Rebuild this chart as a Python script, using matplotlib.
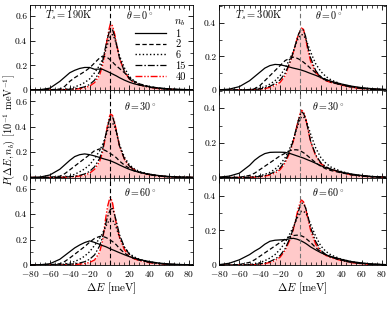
import numpy as np
import matplotlib
matplotlib.use("Agg")
import matplotlib.pyplot as plt
from matplotlib.ticker import MultipleLocator, FuncFormatter

plt.rcParams['font.family'] = 'serif'
plt.rcParams['font.serif'] = ['cmr10']
plt.rcParams['mathtext.fontset'] = 'cm'
plt.rcParams['axes.unicode_minus'] = False
plt.rcParams['axes.formatter.use_mathtext'] = True

# ---- data ----
E = [-80, -70, -60, -50, -45, -40, -35, -30, -25, -20, -15, -10, -7, -4, -2,
     0, 1, 3, 5, 7, 10, 15, 20, 25, 30, 40, 50, 60, 70, 85]
nb_labels = ['1', '2', '6', '15', '40']
temperatures = ['190', '300']
angles = ['0', '30', '60']

# T=190K, theta=0
A_n1 = [0, 0.002, 0.015, 0.07, 0.105, 0.14, 0.16, 0.175, 0.183, 0.183, 0.168, 0.17, 0.168, 0.157, 0.15, 0.142, 0.138, 0.13, 0.122, 0.114, 0.1, 0.08, 0.063, 0.05, 0.04, 0.026, 0.016, 0.009, 0.005, 0.002]
A_n2 = [0, 0, 0.002, 0.008, 0.03, 0.07, 0.1, 0.125, 0.15, 0.18, 0.22, 0.26, 0.275, 0.27, 0.262, 0.25, 0.243, 0.228, 0.21, 0.195, 0.175, 0.14, 0.1, 0.07, 0.05, 0.028, 0.015, 0.008, 0.004, 0.001]
A_n6 = [0, 0, 0, 0.002, 0.005, 0.012, 0.025, 0.04, 0.06, 0.09, 0.14, 0.2, 0.25, 0.32, 0.37, 0.42, 0.44, 0.45, 0.42, 0.37, 0.28, 0.18, 0.11, 0.072, 0.05, 0.027, 0.014, 0.007, 0.003, 0.001]
A_n15 = [0, 0, 0, 0.001, 0.003, 0.006, 0.01, 0.016, 0.026, 0.045, 0.08, 0.15, 0.23, 0.35, 0.42, 0.48, 0.5, 0.49, 0.44, 0.37, 0.26, 0.15, 0.09, 0.06, 0.042, 0.022, 0.011, 0.005, 0.002, 0]
A_n40 = [0, 0, 0, 0.001, 0.002, 0.004, 0.007, 0.011, 0.018, 0.032, 0.06, 0.12, 0.2, 0.33, 0.43, 0.51, 0.54, 0.52, 0.46, 0.38, 0.26, 0.15, 0.09, 0.06, 0.042, 0.022, 0.011, 0.005, 0.002, 0]

# T=300K, theta=0
B_n1 = [0.001, 0.005, 0.02, 0.055, 0.08, 0.105, 0.13, 0.145, 0.152, 0.15, 0.143, 0.135, 0.13, 0.126, 0.123, 0.12, 0.118, 0.114, 0.11, 0.105, 0.098, 0.087, 0.074, 0.062, 0.052, 0.036, 0.023, 0.014, 0.008, 0.003]
B_n2 = [0, 0, 0, 0.003, 0.008, 0.025, 0.055, 0.085, 0.115, 0.145, 0.175, 0.19, 0.195, 0.19, 0.185, 0.178, 0.174, 0.165, 0.155, 0.145, 0.128, 0.102, 0.08, 0.063, 0.05, 0.033, 0.02, 0.011, 0.005, 0.002]
B_n6 = [0, 0, 0, 0.002, 0.005, 0.01, 0.02, 0.035, 0.055, 0.085, 0.13, 0.19, 0.23, 0.28, 0.31, 0.325, 0.33, 0.325, 0.305, 0.275, 0.225, 0.155, 0.11, 0.08, 0.06, 0.035, 0.02, 0.01, 0.005, 0.002]
B_n15 = [0, 0, 0, 0.001, 0.003, 0.006, 0.012, 0.022, 0.038, 0.06, 0.1, 0.17, 0.225, 0.29, 0.33, 0.355, 0.362, 0.355, 0.32, 0.26, 0.19, 0.115, 0.075, 0.057, 0.046, 0.03, 0.017, 0.009, 0.004, 0.001]
B_n40 = [0, 0, 0, 0.001, 0.002, 0.004, 0.008, 0.016, 0.028, 0.045, 0.085, 0.17, 0.225, 0.29, 0.33, 0.355, 0.368, 0.36, 0.31, 0.245, 0.17, 0.105, 0.072, 0.055, 0.045, 0.03, 0.016, 0.008, 0.004, 0.001]

# T=190K, theta=30
C_n1 = [0, 0.003, 0.02, 0.065, 0.1, 0.135, 0.165, 0.18, 0.186, 0.18, 0.17, 0.158, 0.15, 0.143, 0.139, 0.134, 0.131, 0.125, 0.118, 0.111, 0.099, 0.081, 0.064, 0.051, 0.041, 0.026, 0.015, 0.008, 0.004, 0.001]
C_n2 = [0, 0, 0.002, 0.01, 0.03, 0.06, 0.09, 0.12, 0.15, 0.18, 0.212, 0.225, 0.222, 0.212, 0.203, 0.193, 0.188, 0.178, 0.168, 0.155, 0.13, 0.098, 0.072, 0.052, 0.04, 0.023, 0.012, 0.006, 0.003, 0.001]
C_n6 = [0, 0, 0, 0.002, 0.005, 0.012, 0.025, 0.045, 0.068, 0.1, 0.15, 0.21, 0.26, 0.32, 0.37, 0.41, 0.425, 0.43, 0.405, 0.35, 0.26, 0.16, 0.1, 0.068, 0.048, 0.026, 0.013, 0.006, 0.003, 0.001]
C_n15 = [0, 0, 0, 0.001, 0.003, 0.006, 0.01, 0.017, 0.028, 0.048, 0.085, 0.15, 0.22, 0.33, 0.4, 0.46, 0.485, 0.48, 0.43, 0.36, 0.25, 0.145, 0.09, 0.06, 0.042, 0.022, 0.011, 0.005, 0.002, 0]
C_n40 = [0, 0, 0, 0.001, 0.002, 0.004, 0.007, 0.012, 0.02, 0.034, 0.065, 0.125, 0.2, 0.32, 0.41, 0.48, 0.5, 0.49, 0.44, 0.365, 0.25, 0.145, 0.088, 0.06, 0.042, 0.022, 0.011, 0.005, 0.002, 0]

# T=300K, theta=30
D_n1 = [0.002, 0.008, 0.025, 0.07, 0.1, 0.122, 0.138, 0.145, 0.146, 0.146, 0.145, 0.138, 0.132, 0.126, 0.122, 0.118, 0.116, 0.112, 0.107, 0.102, 0.095, 0.082, 0.068, 0.057, 0.047, 0.032, 0.02, 0.012, 0.006, 0.002]
D_n2 = [0, 0, 0.001, 0.012, 0.025, 0.045, 0.065, 0.085, 0.105, 0.125, 0.14, 0.155, 0.16, 0.16, 0.158, 0.153, 0.15, 0.143, 0.135, 0.125, 0.11, 0.085, 0.065, 0.05, 0.04, 0.027, 0.016, 0.009, 0.004, 0.001]
D_n6 = [0, 0, 0, 0.002, 0.005, 0.01, 0.018, 0.03, 0.048, 0.075, 0.115, 0.175, 0.22, 0.275, 0.31, 0.34, 0.35, 0.35, 0.335, 0.305, 0.25, 0.17, 0.115, 0.082, 0.06, 0.035, 0.019, 0.01, 0.005, 0.001]
D_n15 = [0, 0, 0, 0.001, 0.003, 0.006, 0.011, 0.02, 0.034, 0.055, 0.095, 0.16, 0.215, 0.285, 0.33, 0.365, 0.378, 0.37, 0.34, 0.29, 0.21, 0.13, 0.085, 0.062, 0.048, 0.03, 0.016, 0.008, 0.004, 0.001]
D_n40 = [0, 0, 0, 0.001, 0.002, 0.004, 0.008, 0.015, 0.026, 0.045, 0.085, 0.15, 0.21, 0.285, 0.335, 0.372, 0.388, 0.38, 0.345, 0.29, 0.205, 0.125, 0.08, 0.06, 0.046, 0.029, 0.015, 0.008, 0.004, 0.001]

# T=190K, theta=60
E_n1 = [0, 0.002, 0.01, 0.045, 0.075, 0.105, 0.135, 0.158, 0.177, 0.19, 0.178, 0.163, 0.153, 0.145, 0.138, 0.13, 0.127, 0.12, 0.114, 0.107, 0.097, 0.081, 0.066, 0.053, 0.043, 0.027, 0.015, 0.008, 0.004, 0.001]
E_n2 = [0, 0, 0.002, 0.01, 0.028, 0.055, 0.085, 0.115, 0.145, 0.18, 0.21, 0.225, 0.225, 0.218, 0.21, 0.2, 0.195, 0.185, 0.172, 0.158, 0.13, 0.095, 0.068, 0.05, 0.038, 0.022, 0.012, 0.006, 0.003, 0.001]
E_n6 = [0, 0, 0, 0.003, 0.007, 0.015, 0.028, 0.045, 0.07, 0.105, 0.155, 0.21, 0.25, 0.3, 0.33, 0.355, 0.36, 0.355, 0.33, 0.29, 0.22, 0.14, 0.09, 0.063, 0.046, 0.026, 0.013, 0.006, 0.003, 0.001]
E_n15 = [0, 0, 0, 0.001, 0.003, 0.006, 0.01, 0.016, 0.026, 0.045, 0.08, 0.15, 0.22, 0.32, 0.38, 0.42, 0.44, 0.445, 0.4, 0.34, 0.24, 0.14, 0.085, 0.058, 0.042, 0.022, 0.011, 0.005, 0.002, 0]
E_n40 = [0, 0, 0, 0, 0.001, 0.002, 0.004, 0.007, 0.012, 0.02, 0.04, 0.1, 0.19, 0.36, 0.46, 0.52, 0.535, 0.49, 0.4, 0.32, 0.22, 0.12, 0.07, 0.048, 0.035, 0.018, 0.009, 0.004, 0.002, 0]

# T=300K, theta=60
F_n1 = [0.002, 0.01, 0.03, 0.06, 0.08, 0.097, 0.12, 0.137, 0.143, 0.145, 0.146, 0.152, 0.154, 0.15, 0.146, 0.141, 0.138, 0.132, 0.125, 0.117, 0.104, 0.087, 0.071, 0.059, 0.049, 0.033, 0.02, 0.012, 0.006, 0.002]
F_n2 = [0, 0, 0.003, 0.015, 0.03, 0.05, 0.07, 0.09, 0.11, 0.13, 0.15, 0.165, 0.17, 0.172, 0.172, 0.17, 0.168, 0.163, 0.155, 0.145, 0.13, 0.1, 0.075, 0.058, 0.045, 0.028, 0.016, 0.009, 0.004, 0.001]
F_n6 = [0, 0, 0, 0.003, 0.007, 0.014, 0.025, 0.04, 0.06, 0.09, 0.13, 0.185, 0.22, 0.26, 0.285, 0.305, 0.31, 0.31, 0.3, 0.28, 0.235, 0.165, 0.11, 0.078, 0.058, 0.034, 0.019, 0.01, 0.005, 0.001]
F_n15 = [0, 0, 0, 0.001, 0.003, 0.007, 0.012, 0.02, 0.034, 0.055, 0.095, 0.16, 0.21, 0.27, 0.31, 0.345, 0.358, 0.355, 0.33, 0.29, 0.215, 0.135, 0.085, 0.06, 0.046, 0.028, 0.015, 0.008, 0.004, 0.001]
F_n40 = [0, 0, 0, 0.001, 0.002, 0.004, 0.008, 0.015, 0.026, 0.045, 0.085, 0.15, 0.205, 0.28, 0.33, 0.365, 0.375, 0.365, 0.33, 0.275, 0.2, 0.12, 0.077, 0.055, 0.042, 0.026, 0.014, 0.007, 0.003, 0.001]

panels = [
    [[A_n1, A_n2, A_n6, A_n15, A_n40], [B_n1, B_n2, B_n6, B_n15, B_n40]],
    [[C_n1, C_n2, C_n6, C_n15, C_n40], [D_n1, D_n2, D_n6, D_n15, D_n40]],
    [[E_n1, E_n2, E_n6, E_n15, E_n40], [F_n1, F_n2, F_n6, F_n15, F_n40]],
]

# ---- styling ----
W, H = 390, 309
fig = plt.figure(figsize=(W / 100, H / 100), dpi=100)

col_x = [(30, 193), (219, 386)]
row_y = [(5, 90), (90, 177.5), (177.5, 265)]
ylims = [0.69, 0.505]
styles = [
    dict(color='k', ls='-', lw=0.9),
    dict(color='k', ls=(0, (3.5, 2.0)), lw=0.9),
    dict(color='k', ls=(0, (1.0, 1.6)), lw=1.0),
    dict(color='k', ls=(0, (5.5, 1.6, 1.2, 1.6)), lw=0.9),
    dict(color='red', ls=(0, (5.0, 1.3, 1.0, 1.3, 1.0, 1.3)), lw=1.0),
]
fs_tick = 6.8
fs_txt = 7.2
theta_y = [0.885, 0.82, 0.84]
theta_x = [0.675, 0.655]

for r in range(3):
    for c in range(2):
        x0, x1 = col_x[c]
        y0, y1 = row_y[r]
        ax = fig.add_axes([x0 / W, 1 - y1 / H, (x1 - x0) / W, (y1 - y0) / H])
        curves = panels[r][c]
        ax.fill_between(E, 0, curves[4], color='#ffc9c9', lw=0, zorder=1)
        for k in range(5):
            ax.plot(E, curves[k], label=nb_labels[k], zorder=3 if k < 4 else 2, **styles[k])
        ax.axvline(0, color='k' if c == 0 else '0.45', ls=(0, (4, 2.5)), lw=0.8, zorder=4)
        ax.set_xlim(-80, 84)
        ax.set_ylim(0, ylims[c])
        ax.xaxis.set_major_locator(MultipleLocator(20))
        ax.xaxis.set_minor_locator(MultipleLocator(5))
        ax.yaxis.set_major_locator(MultipleLocator(0.2))
        ax.yaxis.set_minor_locator(MultipleLocator(0.1))
        ax.yaxis.set_major_formatter(FuncFormatter(lambda v, p: '%g' % round(v, 3)))
        ax.tick_params(which='both', direction='in', top=True, right=True, labelsize=fs_tick, pad=2)
        ax.tick_params(axis='x', which='major', pad=3)
        ax.tick_params(which='major', length=3.5, width=0.6)
        ax.tick_params(which='minor', length=2, width=0.5)
        for s in ax.spines.values():
            s.set_linewidth(0.6)
        if r < 2:
            ax.tick_params(labelbottom=False)
        else:
            ax.set_xlabel(r'$\Delta E$ [meV]', fontsize=8, labelpad=1)
        ax.text(theta_x[c], theta_y[r], r'$\theta = %s^\circ$' % angles[r],
                transform=ax.transAxes, fontsize=fs_txt, ha='center', va='center')
        if r == 0:
            ax.text(0.235, 0.885, r'$T_s = %s$K' % temperatures[c], transform=ax.transAxes,
                    fontsize=fs_txt + 0.3, ha='center', va='center')
        if r == 0 and c == 0:
            leg = ax.legend(loc='upper right', bbox_to_anchor=(1.0, 0.95), frameon=False,
                            title=r'$n_b$', fontsize=fs_txt + 0.3, title_fontsize=fs_txt + 0.3,
                            handlelength=3.0, handletextpad=0.9, labelspacing=0.12,
                            borderpad=0.2, alignment='right')

fig.text(0.022, (1 - 130 / H), r'$P(\Delta E, n_b)$ [$10^{-1}$ meV$^{-1}$]',
         rotation=90, ha='center', va='center', fontsize=7.5)

fig.savefig('out.png', dpi=100)
